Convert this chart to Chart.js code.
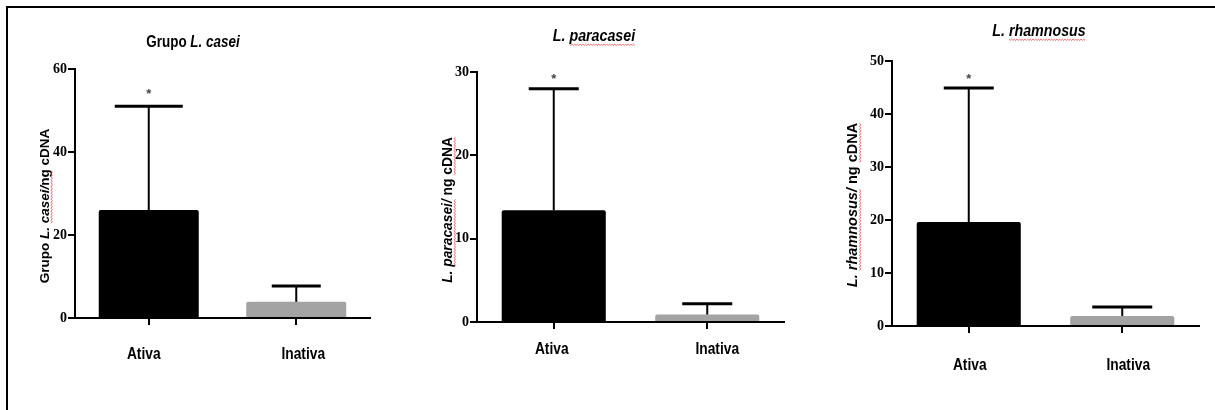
<!DOCTYPE html>
<html><head><meta charset="utf-8">
<script src="https://cdn.jsdelivr.net/npm/chart.js@4.4.1/dist/chart.umd.min.js"></script>
<style>
html,body{margin:0;padding:0;background:#fff;width:1215px;height:410px;overflow:hidden;position:relative}
#frame{position:absolute;left:6px;top:6px;width:1209px;height:404px;border-top:2px solid #000;border-left:2px solid #000;}
canvas{position:absolute}
</style></head><body>
<div id="frame"></div>
<canvas id="c1"></canvas><canvas id="c2"></canvas><canvas id="c3"></canvas>
<script>
// ---- data ----
const categories = ['Ativa', 'Inativa'];
const caseiMeans = [26.0, 3.9];
const caseiErrors = [25.0, 3.8];
const caseiTicks = [0, 20, 40, 60];
const paracaseiMeans = [13.4, 0.9];
const paracaseiErrors = [14.6, 1.3];
const paracaseiTicks = [0, 10, 20, 30];
const rhamnosusMeans = [19.6, 1.9];
const rhamnosusErrors = [25.3, 1.7];
const rhamnosusTicks = [0, 10, 20, 30, 40, 50];
const significance = ['*', ''];
const barColors = ['#000000', '#a3a3a3'];

const SANS = '"Liberation Sans",Arial,sans-serif';
const SERIF = '"Liberation Serif","Times New Roman",serif';

function drawRich(ctx, segs, cx, cy, size, sx, rotate) {
  ctx.save();
  ctx.translate(cx, cy);
  if (rotate) ctx.rotate(-Math.PI / 2);
  ctx.scale(sx, 1);
  ctx.textBaseline = 'middle';
  ctx.textAlign = 'left';
  const fontOf = s => (s.i ? 'italic ' : '') + 'bold ' + size + 'px ' + SANS;
  let total = 0;
  segs.forEach(s => { ctx.font = fontOf(s); s.w = ctx.measureText(s.t).width; total += s.w; });
  let x = -total / 2;
  segs.forEach(s => {
    ctx.font = fontOf(s);
    ctx.fillStyle = '#000';
    ctx.fillText(s.t, x, 0);
    if (s.sq) {
      const yb = size * 0.45;
      ctx.strokeStyle = '#e03c3c';
      ctx.lineWidth = 0.8;
      ctx.beginPath();
      let up = true, first = true;
      for (let xx = x + (s.t.startsWith(' ') ? size * 0.28 : 0); xx <= x + s.w; xx += 1.5) {
        if (first) { ctx.moveTo(xx, yb); first = false; }
        ctx.lineTo(xx, yb + (up ? 0 : 1.2));
        up = !up;
      }
      ctx.stroke();
    }
    x += s.w;
  });
  ctx.restore();
}

const extras = {
  id: 'extras',
  afterDatasetsDraw(chart, args, o) {
    const ctx = chart.ctx, ys = chart.scales.y;
    const meta = chart.getDatasetMeta(0);
    ctx.save();
    o.means.forEach((m, i) => {
      const x = meta.data[i].x;
      const y0 = ys.getPixelForValue(m), y1 = ys.getPixelForValue(m + o.errors[i]);
      ctx.strokeStyle = '#000';
      ctx.lineWidth = 2;
      ctx.beginPath(); ctx.moveTo(x, y0); ctx.lineTo(x, y1); ctx.stroke();
      ctx.lineWidth = 3;
      ctx.beginPath(); ctx.moveTo(x - o.caps[i] / 2, y1); ctx.lineTo(x + o.caps[i] / 2, y1); ctx.stroke();
      if (o.stars[i]) {
        ctx.fillStyle = '#444';
        ctx.font = 'bold 13px ' + SANS;
        ctx.textAlign = 'center';
        ctx.textBaseline = 'middle';
        ctx.fillText(o.stars[i], x, y1 - o.starGap + 2);
      }
    });
    ctx.restore();
  },
  afterDraw(chart, args, o) {
    const ctx = chart.ctx, xs = chart.scales.x;
    drawRich(ctx, o.title.segs, o.title.cx - o.ox, o.title.cy - o.oy, o.title.size, o.title.sx, false);
    drawRich(ctx, o.ytitle.segs, o.ytitle.cx - o.ox, o.ytitle.cy - o.oy, o.ytitle.size, 1, true);
    // category labels (condensed bold, like the original)
    chart.data.labels.forEach((lab, i) => {
      const x = xs.getPixelForTick(i) + o.labelDx[i];
      drawRich(ctx, [{ t: lab }], x, chart.chartArea.bottom + o.labelGap, 16, 0.86, false);
    });
  }
};

const Y_W = 30, X_H = 60;

function makePanel(id, p) {
  const cv = document.getElementById(id);
  cv.width = p.canvas.w; cv.height = p.canvas.h;
  cv.style.left = p.canvas.x + 'px'; cv.style.top = p.canvas.y + 'px';
  cv.style.width = p.canvas.w + 'px'; cv.style.height = p.canvas.h + 'px';
  const padding = {
    left: (p.area.l - p.canvas.x) - Y_W,
    top: p.area.t - p.canvas.y,
    right: (p.canvas.x + p.canvas.w) - p.area.r,
    bottom: (p.canvas.y + p.canvas.h) - p.area.b - X_H
  };
  new Chart(cv, {
    type: 'bar',
    data: {
      labels: categories,
      datasets: [{ data: p.means, backgroundColor: barColors, borderWidth: 0, borderRadius: 2,
        borderSkipped: 'bottom', categoryPercentage: 1, barPercentage: 0.678 }]
    },
    options: {
      responsive: false, animation: false, devicePixelRatio: 1,
      layout: { padding },
      plugins: {
        legend: { display: false }, tooltip: { enabled: false }, title: { display: false },
        extras: { means: p.means, errors: p.errors, caps: p.caps, stars: significance, starGap: p.starGap,
          title: p.title, ytitle: p.ytitle, ox: p.canvas.x, oy: p.canvas.y, labelGap: p.labelGap, labelDx: p.labelDx }
      },
      scales: {
        x: {
          offset: true,
          grid: { offset: false, drawOnChartArea: false, drawTicks: true, tickLength: 7, color: '#000', lineWidth: 2 },
          border: { display: true, color: '#000', width: 2 },
          ticks: { display: false },
          afterFit: s => { s.height = X_H; }
        },
        y: {
          min: 0, max: p.ticks[p.ticks.length - 1],
          afterBuildTicks: s => { s.ticks = p.ticks.map(v => ({ value: v })); },
          grid: { drawOnChartArea: false, drawTicks: true, tickLength: 7, color: '#000', lineWidth: 2 },
          border: { display: true, color: '#000', width: 2 },
          ticks: { color: '#000', padding: 1, font: { family: SERIF, size: 14, weight: 'bold' } },
          afterFit: s => { s.width = Y_W; }
        }
      }
    },
    plugins: [extras]
  });
}

makePanel('c1', {
  canvas: { x: 10, y: 10, w: 390, h: 395 },
  area: { l: 75, t: 69, r: 370, b: 318 },
  means: caseiMeans, errors: caseiErrors, ticks: caseiTicks, caps: [68, 49], starGap: 14,
  labelGap: 37, labelDx: [-5, 7],
  title: { cx: 193, cy: 43, size: 16, sx: 0.84, segs: [{ t: 'Grupo ' }, { t: 'L. casei', i: true }] },
  ytitle: { cx: 45, cy: 206, size: 13.5, segs: [{ t: 'Grupo ' }, { t: 'L. ', i: true }, { t: 'casei/', i: true, sq: true }, { t: 'ng', sq: true }, { t: ' cDNA' }] }
});
makePanel('c2', {
  canvas: { x: 405, y: 10, w: 400, h: 395 },
  area: { l: 477, t: 72, r: 784, b: 322 },
  means: paracaseiMeans, errors: paracaseiErrors, ticks: paracaseiTicks, caps: [50, 50], starGap: 11,
  labelGap: 28, labelDx: [-2, 10],
  title: { cx: 594, cy: 37, size: 16, sx: 0.89, segs: [{ t: 'L. ', i: true }, { t: 'paracasei', i: true, sq: true }] },
  ytitle: { cx: 448, cy: 210, size: 13.8, segs: [{ t: 'L. ', i: true }, { t: 'paracasei/', i: true, sq: true }, { t: ' ng ' }, { t: 'cDNA', sq: true }] }
});
makePanel('c3', {
  canvas: { x: 810, y: 10, w: 405, h: 395 },
  area: { l: 892, t: 61, r: 1199, b: 326 },
  means: rhamnosusMeans, errors: rhamnosusErrors, ticks: rhamnosusTicks, caps: [50, 60], starGap: 11,
  labelGap: 40, labelDx: [1, 6],
  title: { cx: 1039, cy: 32, size: 16, sx: 0.89, segs: [{ t: 'L. ', i: true }, { t: 'rhamnosus', i: true, sq: true }] },
  ytitle: { cx: 853, cy: 205, size: 14.5, segs: [{ t: 'L. ', i: true }, { t: 'rhamnosus/', i: true, sq: true }, { t: ' ng ' }, { t: 'cDNA', sq: true }] }
});
</script>
</body></html>
